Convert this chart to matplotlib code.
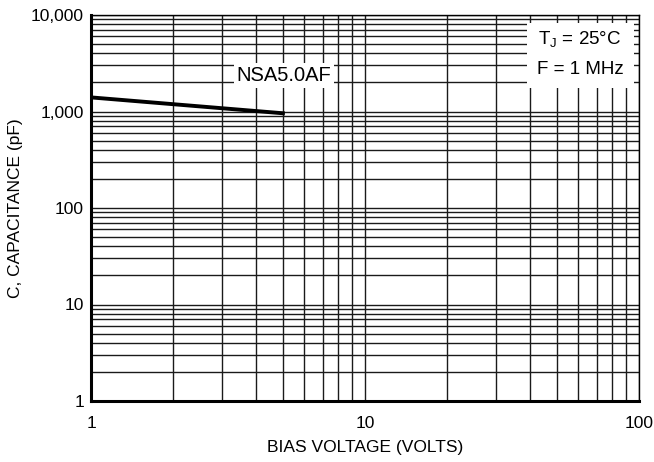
import matplotlib
matplotlib.use("Agg")
import matplotlib.pyplot as plt
from matplotlib.patches import Rectangle
import numpy as np

plt.rcParams['font.family'] = ['Liberation Sans', 'DejaVu Sans']

# data
bias_v = [1.0, 5.1]
cap_pf = [1400, 955]

x_ticks = [1, 10, 100]
x_labels = ['1', '10', '100']
y_ticks = [1, 10, 100, 1000, 10000]
y_labels = ['1', '10', '100', '1,000', '10,000']

fig = plt.figure(figsize=(6.54, 4.62), dpi=100)
ax = fig.add_axes([91/654, 1-401/462, 548/654, 386/462])

ax.set_xscale('log')
ax.set_yscale('log')
ax.set_xlim(1, 100)
ax.set_ylim(1, 10000)

ax.grid(True, which='both', color='#1a1a1a', linewidth=1.0)
ax.set_axisbelow(True)

ax.plot(bias_v, cap_pf, color='black', linewidth=2.8, solid_capstyle='butt', zorder=3)

ax.set_xticks(x_ticks)
ax.set_xticklabels(x_labels)
ax.set_yticks(y_ticks)
ax.set_yticklabels(y_labels)
ax.minorticks_on()
ax.tick_params(which='both', length=0, labelsize=12.5)
ax.tick_params(axis='y', pad=5)
ax.tick_params(axis='x', pad=11)
ax.xaxis.set_minor_formatter(matplotlib.ticker.NullFormatter())
ax.yaxis.set_minor_formatter(matplotlib.ticker.NullFormatter())

for side in ['left', 'bottom']:
    ax.spines[side].set_linewidth(2.2)
for side in ['top', 'right']:
    ax.spines[side].set_linewidth(1.0)

ax.set_xlabel('BIAS VOLTAGE (VOLTS)', fontsize=12.5, labelpad=6)
ax.set_ylabel('C, CAPACITANCE (pF)', fontsize=12.5, labelpad=6)

ax.text(5.05, 2350, 'NSA5.0AF', fontsize=14.5, ha='center', va='center', zorder=4,
        bbox=dict(facecolor='white', edgecolor='none', pad=2))

# white box holding the test conditions, upper right
ax.add_patch(Rectangle((0.795, 0.812), 0.195, 0.168, transform=ax.transAxes,
                       facecolor='white', edgecolor='none', zorder=3))
ax.text(0.8925, 0.935, 'T$_\\mathregular{J}$ = 25°C', transform=ax.transAxes,
        fontsize=13.5, ha='center', va='center', zorder=4)
ax.text(0.8925, 0.86, 'F = 1 MHz', transform=ax.transAxes,
        fontsize=13.5, ha='center', va='center', zorder=4)

fig.savefig('out.png', dpi=100)
